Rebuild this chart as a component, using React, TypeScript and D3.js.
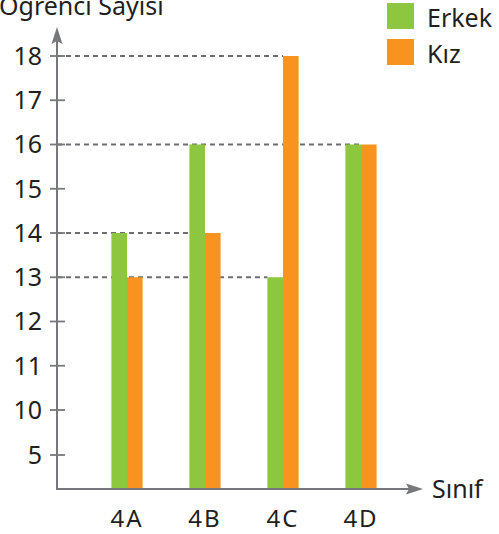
import { useEffect, useRef } from "react";
import * as d3 from "d3";

const classes = ["4A", "4B", "4C", "4D"];
const erkek = [14, 16, 13, 16];
const kiz = [13, 14, 18, 16];
const yTicks = [5, 10, 11, 12, 13, 14, 15, 16, 17, 18];
const series = [
  { name: "Erkek", values: erkek, color: "#8dc63f" },
  { name: "Kız", values: kiz, color: "#f7931e" },
];

const W = 499;
const H = 534;
const INK = "#231f20";
const AXIS = "#77787b";
const FONT = "'Noto Sans', sans-serif";

export default function App() {
  const svgRef = useRef<SVGSVGElement | null>(null);

  useEffect(() => {
    if (!svgRef.current) return;
    const svg = d3.select(svgRef.current);
    svg.selectAll("*").remove();

    const x0 = 57;
    const yBase = 489;
    // broken axis: 0..5 and 5..10 compressed
    const y = d3.scaleLinear().domain([0, 5, 10, 18]).range([yBase, 455, 410, 56]);
    const x = d3.scalePoint<string>().domain(classes).range([127, 361]);
    const barW = 15.6;

    // dashed guide lines, behind bars, up to the last bar with that value
    const guides = new Map<number, number>();
    classes.forEach((c, i) => {
      series.forEach((s, si) => {
        const left = (x(c) ?? 0) + (si === 0 ? -barW : 0);
        const v = s.values[i];
        guides.set(v, Math.max(guides.get(v) ?? 0, left));
      });
    });
    svg
      .append("g")
      .selectAll("line")
      .data(Array.from(guides.entries()))
      .enter()
      .append("line")
      .attr("x1", x0)
      .attr("x2", (d) => d[1])
      .attr("y1", (d) => y(d[0]))
      .attr("y2", (d) => y(d[0]))
      .attr("stroke", "#6d6e71")
      .attr("stroke-width", 2)
      .attr("stroke-dasharray", "5 4");

    // bars
    series.forEach((s, si) => {
      svg
        .append("g")
        .selectAll("rect")
        .data(s.values)
        .enter()
        .append("rect")
        .attr("x", (_, i) => (x(classes[i]) ?? 0) + (si === 0 ? -barW : 0))
        .attr("y", (v) => y(v))
        .attr("width", barW)
        .attr("height", (v) => yBase - y(v))
        .attr("fill", s.color);
    });

    // y axis
    svg
      .append("line")
      .attr("x1", x0)
      .attr("x2", x0)
      .attr("y1", yBase + 1)
      .attr("y2", 40)
      .attr("stroke", AXIS)
      .attr("stroke-width", 2);
    svg
      .append("path")
      .attr("d", `M${x0},27 L${x0 + 5.5},44 L${x0},41 L${x0 - 5.5},44 Z`)
      .attr("fill", AXIS);

    const ticks = svg.append("g").selectAll("g").data(yTicks).enter().append("g");
    ticks
      .append("line")
      .attr("x1", 50)
      .attr("x2", 65)
      .attr("y1", (d) => y(d))
      .attr("y2", (d) => y(d))
      .attr("stroke", AXIS)
      .attr("stroke-width", 1.8);
    ticks
      .append("text")
      .attr("x", 42)
      .attr("y", (d) => y(d))
      .attr("dy", "0.35em")
      .attr("text-anchor", "end")
      .attr("fill", INK)
      .style("font-family", FONT)
      .style("font-size", "25px")
      .text((d) => d);

    // x axis
    svg
      .append("line")
      .attr("x1", x0 - 1)
      .attr("x2", 412)
      .attr("y1", yBase)
      .attr("y2", yBase)
      .attr("stroke", AXIS)
      .attr("stroke-width", 2);
    svg
      .append("path")
      .attr("d", `M423,${yBase} L406,${yBase - 5.5} L409,${yBase} L406,${yBase + 5.5} Z`)
      .attr("fill", AXIS);

    svg
      .append("g")
      .selectAll("text")
      .data(classes)
      .enter()
      .append("text")
      .attr("x", (d) => x(d) ?? 0)
      .attr("y", 527)
      .attr("text-anchor", "middle")
      .attr("fill", INK)
      .style("font-family", FONT)
      .style("font-size", "24px")
      .style("letter-spacing", "2px")
      .text((d) => d);

    svg
      .append("text")
      .attr("x", 432)
      .attr("y", 498)
      .attr("fill", INK)
      .style("font-family", FONT)
      .style("font-size", "25px")
      .text("Sınıf");

    svg
      .append("text")
      .attr("x", -1)
      .attr("y", 15)
      .attr("fill", INK)
      .style("font-family", FONT)
      .style("font-size", "25px")
      .text("Öğrenci Sayısı");

    // legend
    const legend = svg
      .append("g")
      .selectAll("g")
      .data(series)
      .enter()
      .append("g")
      .attr("transform", (_, i) => `translate(387,${3 + i * 36})`);
    legend
      .append("rect")
      .attr("width", 27)
      .attr("height", 26)
      .attr("fill", (d) => d.color);
    legend
      .append("text")
      .attr("x", 40)
      .attr("y", 24)
      .attr("fill", INK)
      .style("font-family", FONT)
      .style("font-size", "25px")
      .text((d) => d.name);
  }, []);

  return (
    <svg
      ref={svgRef}
      width={W}
      height={H}
      viewBox={`0 0 ${W} ${H}`}
      style={{ position: "absolute", left: 0, top: 0, background: "#fff" }}
    />
  );
}
